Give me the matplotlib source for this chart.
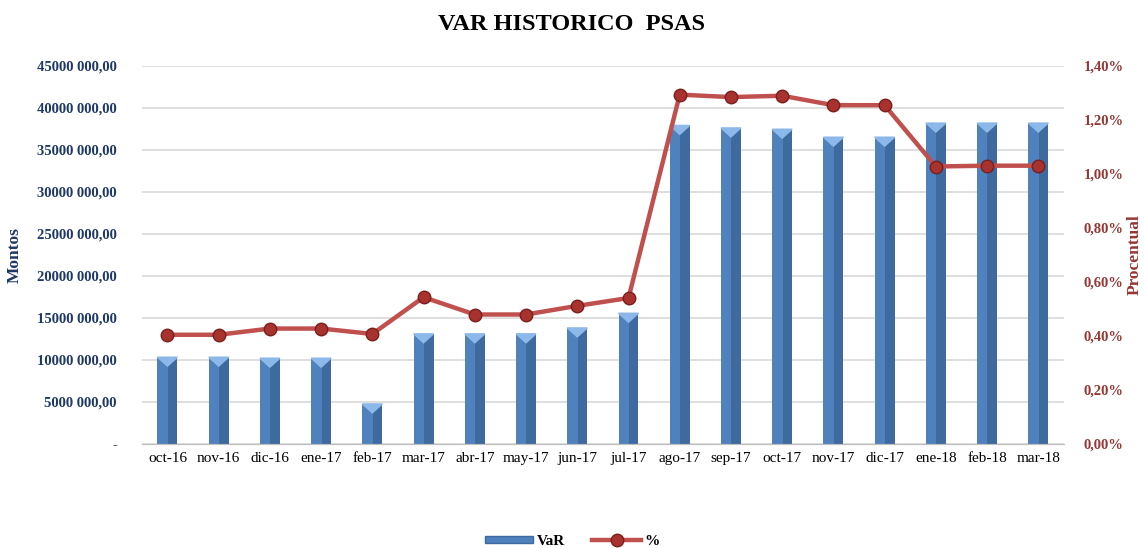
import matplotlib
matplotlib.use("Agg")
import matplotlib.pyplot as plt
from matplotlib.patches import Polygon, Patch
from matplotlib.lines import Line2D
from matplotlib.ticker import FuncFormatter, MultipleLocator

plt.rcParams['font.family'] = ['Liberation Serif', 'DejaVu Serif']

months = ["oct-16", "nov-16", "dic-16", "ene-17", "feb-17", "mar-17", "abr-17",
          "may-17", "jun-17", "jul-17", "ago-17", "sep-17", "oct-17", "nov-17",
          "dic-17", "ene-18", "feb-18", "mar-18"]
var_amount = [10.32e6, 10.32e6, 10.2e6, 10.2e6, 4.76e6, 13.1e6, 13.1e6, 13.1e6,
              13.8e6, 15.55e6, 37.9e6, 37.6e6, 37.45e6, 36.5e6, 36.5e6,
              38.18e6, 38.18e6, 38.18e6]
pct = [0.404, 0.404, 0.427, 0.427, 0.407, 0.543, 0.479, 0.479, 0.511, 0.540,
       1.293, 1.284, 1.289, 1.254, 1.254, 1.027, 1.030, 1.030]

navy = "#1F3864"
dred = "#953735"
x = list(range(len(months)))
w = 0.39

fig = plt.figure(figsize=(11.44, 5.48), dpi=100)
ax = fig.add_axes([0.124, 0.190, 0.806, 0.690])
ax2 = ax.twinx()

ax.set_ylim(0, 45e6)
ax.set_xlim(-0.5, len(months) - 0.5)
ax.yaxis.set_major_locator(MultipleLocator(5e6))
ax.grid(axis="y", color="#D9D9D9", lw=1.2)
ax.set_axisbelow(True)

# bars with a bevel look
ax.bar(x, var_amount, width=w, color="#4F81BD", zorder=2)
ax.bar([i + w * 0.02 for i in x], var_amount, width=w * 0.48, align="edge",
       color="#3E6AA0", zorder=2)
tri_h = 45e6 * 9 / 378
for i, v in zip(x, var_amount):
    ax.add_patch(Polygon([(i - w / 2, v), (i + w / 2, v), (i, v - tri_h)],
                         closed=True, color="#8DB8EA", zorder=3))

ax2.set_ylim(0, 1.4)
ax2.yaxis.set_major_locator(MultipleLocator(0.2))
ax2.plot(x, pct, color="#C0504D", lw=3.2, marker="o", ms=9,
         markerfacecolor="#A8322E", markeredgecolor="#7A1F1C", zorder=4)

ax.yaxis.set_major_formatter(FuncFormatter(
    lambda v, p: "-" if v == 0 else f"{int(v // 1000)} {int(v % 1000):03d},00"))
ax2.yaxis.set_major_formatter(FuncFormatter(
    lambda v, p: f"{v:.2f}".replace(".", ",") + "%"))

ax.set_xticks(x)
ax.set_xticklabels(months, fontsize=11)
for a in (ax, ax2):
    for s in ("top", "left", "right"):
        a.spines[s].set_visible(False)
    a.spines["bottom"].set_color("#BFBFBF")
    a.tick_params(length=0)
for t in ax.get_yticklabels():
    t.set_color(navy)
    t.set_fontweight("bold")
    t.set_fontsize(10.5)
for t in ax2.get_yticklabels():
    t.set_color(dred)
    t.set_fontweight("bold")
    t.set_fontsize(10.5)
ax.tick_params(axis="y", pad=18)
ax2.tick_params(axis="y", pad=14)
ax.tick_params(axis="x", pad=6)

ax.set_ylabel("Montos", color=navy, fontweight="bold", fontsize=12.5, labelpad=10)
ax2.set_ylabel("Procentual", color=dred, fontweight="bold", fontsize=12.5, labelpad=2)

fig.suptitle("VAR HISTORICO  PSAS", y=0.975, fontsize=17.5, fontweight="bold")

handles = [Patch(facecolor="#4F81BD", edgecolor="#3E6AA0"),
           Line2D([], [], color="#C0504D", lw=3.2, marker="o", ms=9,
                  markerfacecolor="#A8322E", markeredgecolor="#7A1F1C")]
fig.legend(handles, ["VaR", "%"], loc="lower center", ncol=2, frameon=False,
           bbox_to_anchor=(0.5, -0.025), prop={"weight": "bold", "size": 11},
           handlelength=3.2, handleheight=0.4, handletextpad=0.2,
           columnspacing=1.8)

fig.savefig("out.png", dpi=100)
